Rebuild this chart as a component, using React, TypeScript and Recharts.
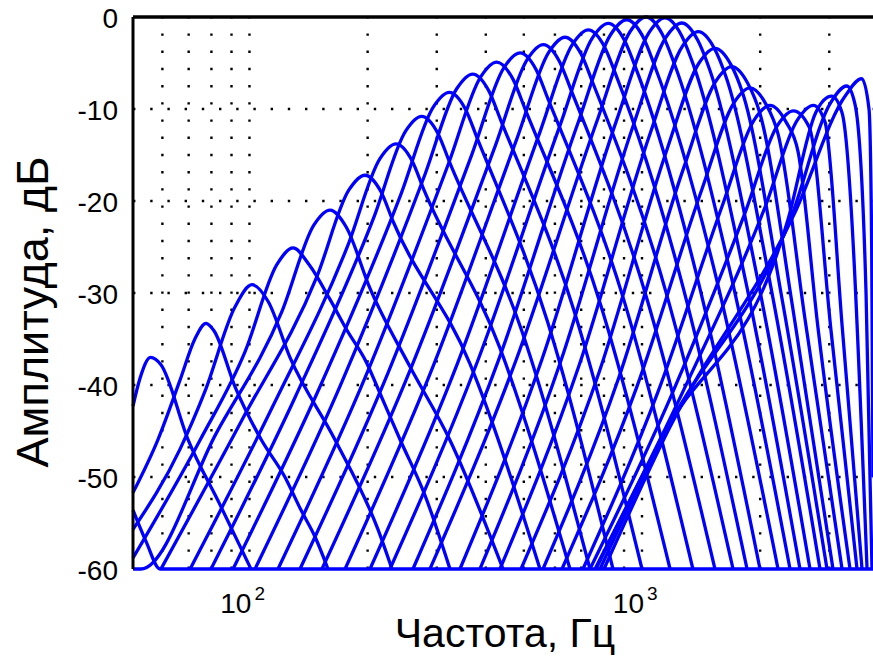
import React from 'react';
import { LineChart, Line, XAxis, YAxis, ReferenceLine, Label } from 'recharts';

const FONT = '"Liberation Sans", Arial, Helvetica, sans-serif';

// axis / grid values
const freqDomain: [number, number] = [50.5, 3877];
const freqTicks = [100, 1000];
const freqGrid = [60, 70, 80, 90, 100, 200, 300, 400, 500, 600, 700, 800, 900, 1000, 2000, 3000];
const dbTicks = [-60, -50, -40, -30, -20, -10, 0];
const dbGrid = [-50, -40, -30, -20, -10];
const xTitle = 'Частота, Гц';
const yTitle = 'Амплитуда, дБ';

// filter responses, [frequency Hz, amplitude dB]
const c00: [number, number][] = [[50.5, -53.6], [54.5, -57.0], [59.2, -60], [3877, -60]];
const c01: [number, number][] = [[50.5, -42.3], [52.6, -39.3], [56.0, -37.0], [59.5, -37.8], [69.7, -45.9], [84.1, -53], [100.9, -60]];
const c02: [number, number][] = [[50.5, -51.7], [58.5, -45.9], [66.5, -39.5], [72.6, -35], [77.5, -33.3], [81.2, -34.1], [91.9, -40.2], [107, -45.9], [123.1, -50], [135.3, -53.6], [146.9, -56.5], [158.5, -60]];
const c03: [number, number][] = [[50.5, -55.7], [66.5, -47], [77, -40.7], [91.9, -31.5], [101.5, -29.1], [111.5, -30.9], [126.8, -37], [164.9, -45.9], [212.5, -55.7], [230.7, -60]];
const c04: [number, number][] = [[50.5, -58.8], [74.8, -46], [97.4, -36.4], [117.5, -26.9], [129.1, -25.1], [141.8, -26.9], [160.4, -30.7], [176.9, -34], [198.9, -37.6], [215, -40.9], [241.7, -45.9], [280, -52], [324.2, -60]];
const c05: [number, number][] = [[50.5, -60], [52.9, -60], [82.4, -45.2], [121, -32], [146, -22.6], [160.4, -21], [176.2, -22.8], [202.8, -29.5], [256.3, -38], [324.2, -46], [442.5, -60]];
const c06: [number, number][] = [[59.5, -60], [96, -43.7], [148.6, -28.2], [179.2, -18.8], [196.9, -17.2], [216.3, -19], [232.1, -22.2], [364.6, -37.7], [549.7, -60]];
const c07: [number, number][] = [[70.6, -60], [114.4, -42.4], [178.2, -24.8], [215, -15.4], [236.2, -13.8], [259.3, -15.6], [278.3, -18.8], [434.7, -36], [655.5, -60]];
const c08: [number, number][] = [[79.8, -60], [130.8, -41.3], [207.3, -21.8], [249.9, -12.4], [274.6, -10.8], [301.6, -12.6], [323.6, -15.8], [496.7, -34.4], [737, -60]];
const c09: [number, number][] = [[90.8, -60], [150.8, -40.3], [243.5, -19.2], [293.9, -9.8], [322.9, -8.2], [354.7, -10], [380.5, -13.2], [574.4, -33.1], [843.5, -60]];
const c10: [number, number][] = [[103.3, -60], [172.2, -39.6], [279.5, -17.2], [337.2, -7.8], [370.4, -6.2], [406.9, -8], [436.5, -11.2], [672.2, -32], [1000, -60]];
const c11: [number, number][] = [[118.2, -60], [197.5, -39.1], [321.7, -15.9], [388.2, -6.5], [426.4, -4.9], [468.4, -6.7], [502.6, -9.9], [784.8, -31.3], [1179, -60]];
const c12: [number, number][] = [[134.5, -60], [225.3, -38.7], [368.9, -14.9], [445, -5.5], [488.9, -3.9], [537, -5.7], [576.1, -8.9], [899.7, -30.8], [1348, -60]];
const c13: [number, number][] = [[153, -60], [257.1, -38.3], [422.9, -14], [510.3, -4.6], [560.5, -3], [615.7, -4.8], [660.5, -8], [1025.5, -30.4], [1534, -60]];
const c14: [number, number][] = [[175.2, -60], [293.4, -38], [480.4, -13.2], [579.5, -3.8], [636.5, -2.2], [699.1, -4], [750.1, -7.2], [1151, -29.9], [1706, -60]];
const c15: [number, number][] = [[202.8, -60], [338.4, -37.7], [550.7, -12.4], [664.4, -3], [729.7, -1.4], [801.6, -3.2], [860, -6.4], [1274.5, -29.5], [1852, -60]];
const c16: [number, number][] = [[228, -60], [380.5, -37.5], [619.2, -11.7], [747, -2.3], [820.6, -0.7], [901.2, -2.5], [967.1, -5.7], [1399, -29.2], [1998, -60]];
const c17: [number, number][] = [[260.9, -60], [431, -37.3], [689.8, -11.3], [832.2, -1.9], [914, -0.3], [1004, -2.1], [1077, -5.3], [1559, -29], [2221, -60]];
const c18: [number, number][] = [[288.3, -60], [478.6, -37.2], [772.4, -11], [932, -1.6], [1024, 0], [1124, -1.8], [1207, -5], [1700, -28.8], [2383, -60]];
const c19: [number, number][] = [[343.8, -60], [556.2, -37.2], [863.6, -11.1], [1042, -1.7], [1144, -0.1], [1257, -1.9], [1349, -5.1], [1841, -28.9], [2526, -60]];
const c20: [number, number][] = [[386.6, -60], [620.6, -37.45], [952.5, -11.65], [1149, -2.25], [1263, -0.65], [1386, -2.5], [1487, -5.7], [1984, -29.15], [2679, -60]];
const c21: [number, number][] = [[434.7, -60], [692.3, -37.8], [1050, -12.6], [1267, -3.2], [1391, -1.6], [1528, -3.4], [1640, -6.6], [2135, -29.6], [2841, -60]];
const c22: [number, number][] = [[491.8, -60], [779.2, -38.5], [1158, -14.4], [1397, -5], [1534, -3.4], [1686, -5.2], [1809, -8.4], [2273, -30.6], [2960, -60]];
const c23: [number, number][] = [[559.5, -60], [871.2, -39.3], [1277, -16.4], [1541, -7], [1693, -5.4], [1859, -7.2], [1995, -10.4], [2421, -31.6], [3066, -60]];
const c24: [number, number][] = [[625.4, -60], [972.2, -40.1], [1422, -18.7], [1716, -9.3], [1885, -7.7], [2070, -9.5], [2221, -12.7], [2601, -32.8], [3233, -60]];
const c25: [number, number][] = [[707.4, -60], [1097, -40.8], [1599, -20.6], [1930, -11.2], [2119, -9.6], [2327, -11.4], [2497, -14.6], [2808, -33.8], [3388, -60]];
const c26: [number, number][] = [[737, -60], [1189, -41.1], [1833, -21.2], [2212, -11.8], [2430, -10.2], [2668, -12], [3031, -34.1], [3530, -60]];
const c27: [number, number][] = [[759, -60], [1268.5, -40.8], [2061, -20.6], [2487, -11.2], [2732, -9.6], [2925, -11.4], [3238, -33.8], [3635, -60]];
const c28: [number, number][] = [[763.4, -60], [1131, -45.5], [2355, -22], [2770, -10.4], [3043, -8.6], [3233, -10.4], [3744, -60]];
const c29: [number, number][] = [[781.6, -60], [1144, -45.2], [2411, -21.5], [3025, -9.3], [3323, -7.5], [3489, -9.5], [3722, -30], [3854, -60]];
const c30: [number, number][] = [[800.2, -60], [1164, -45], [2468, -21], [3303, -8.5], [3629, -6.7], [3787, -10], [3847, -25], [3877, -50]];

const curves = [c00, c01, c02, c03, c04, c05, c06, c07, c08, c09, c10, c11, c12, c13, c14, c15,
  c16, c17, c18, c19, c20, c21, c22, c23, c24, c25, c26, c27, c28, c29, c30];
const series = curves.map((c) => c.map(([f, db]) => ({ f, db })));

const YTick = (props: any) => {
  const { x, y, payload } = props;
  return (
    <text x={x} y={y} dy="0.38em" textAnchor="end" fontSize={28} fontFamily={FONT} fill="#000">
      {String(payload.value)}
    </text>
  );
};

const XTick = (props: any) => {
  const { x, y, payload } = props;
  const exp = Math.round(Math.log10(payload.value));
  return (
    <g>
      <text x={x + 2} y={y + 44} textAnchor="end" fontSize={28} fontFamily={FONT} fill="#000">10</text>
      <text x={x + 5} y={y + 31} textAnchor="start" fontSize={19} fontFamily={FONT} fill="#000">{exp}</text>
    </g>
  );
};

const XTitle = (props: any) => {
  const vb = props.viewBox || { x: 133, width: 740, y: 569, height: 87 };
  return (
    <text x={vb.x + vb.width / 2 + 2} y={vb.y + 78} textAnchor="middle" fontSize={41} fontFamily={FONT} fill="#000">
      {xTitle}
    </text>
  );
};

const YTitle = () => {
  const cx = 48;
  const cy = 312;
  return (
    <text x={cx} y={cy} transform={`rotate(-90 ${cx} ${cy})`} textAnchor="middle" fontSize={45} fontFamily={FONT} fill="#000">
      {yTitle}
    </text>
  );
};

export default function App() {
  return (
    <div style={{ position: 'absolute', left: 0, top: 0, width: 873, height: 656, background: '#fff' }}>
      <LineChart width={873} height={656} margin={{ top: 17, right: 0, bottom: 0, left: 0 }}>
        <XAxis
          dataKey="f"
          type="number"
          scale="log"
          domain={freqDomain}
          ticks={freqTicks}
          height={87}
          axisLine={false}
          tickLine={false}
          tickSize={0}
          tickMargin={0}
          tick={<XTick />}
          interval={0}
        >
          <Label content={<XTitle />} />
        </XAxis>
        <YAxis
          type="number"
          domain={[-60, 0]}
          ticks={dbTicks}
          width={133}
          axisLine={{ stroke: '#000', strokeWidth: 3 }}
          tickLine={false}
          tickSize={0}
          tickMargin={15}
          tick={<YTick />}
          interval={0}
        >
          <Label content={<YTitle />} />
        </YAxis>
        {freqGrid.map((f) => (
          <ReferenceLine key={'v' + f} x={f} stroke="#000" strokeWidth={2.4} strokeDasharray="2.4 14.8" />
        ))}
        {dbGrid.map((d) => (
          <ReferenceLine key={'h' + d} y={d} stroke="#000" strokeWidth={2.4} strokeDasharray="2.4 14.8" />
        ))}
        {series.map((s, i) => (
          <Line
            key={'c' + i}
            data={s}
            dataKey="db"
            type="monotone"
            stroke="#0000ff"
            strokeWidth={3.3}
            dot={false}
            activeDot={false}
            isAnimationActive={false}
          />
        ))}
        <ReferenceLine y={0} stroke="#000" strokeWidth={3.5} />
      </LineChart>
    </div>
  );
}
